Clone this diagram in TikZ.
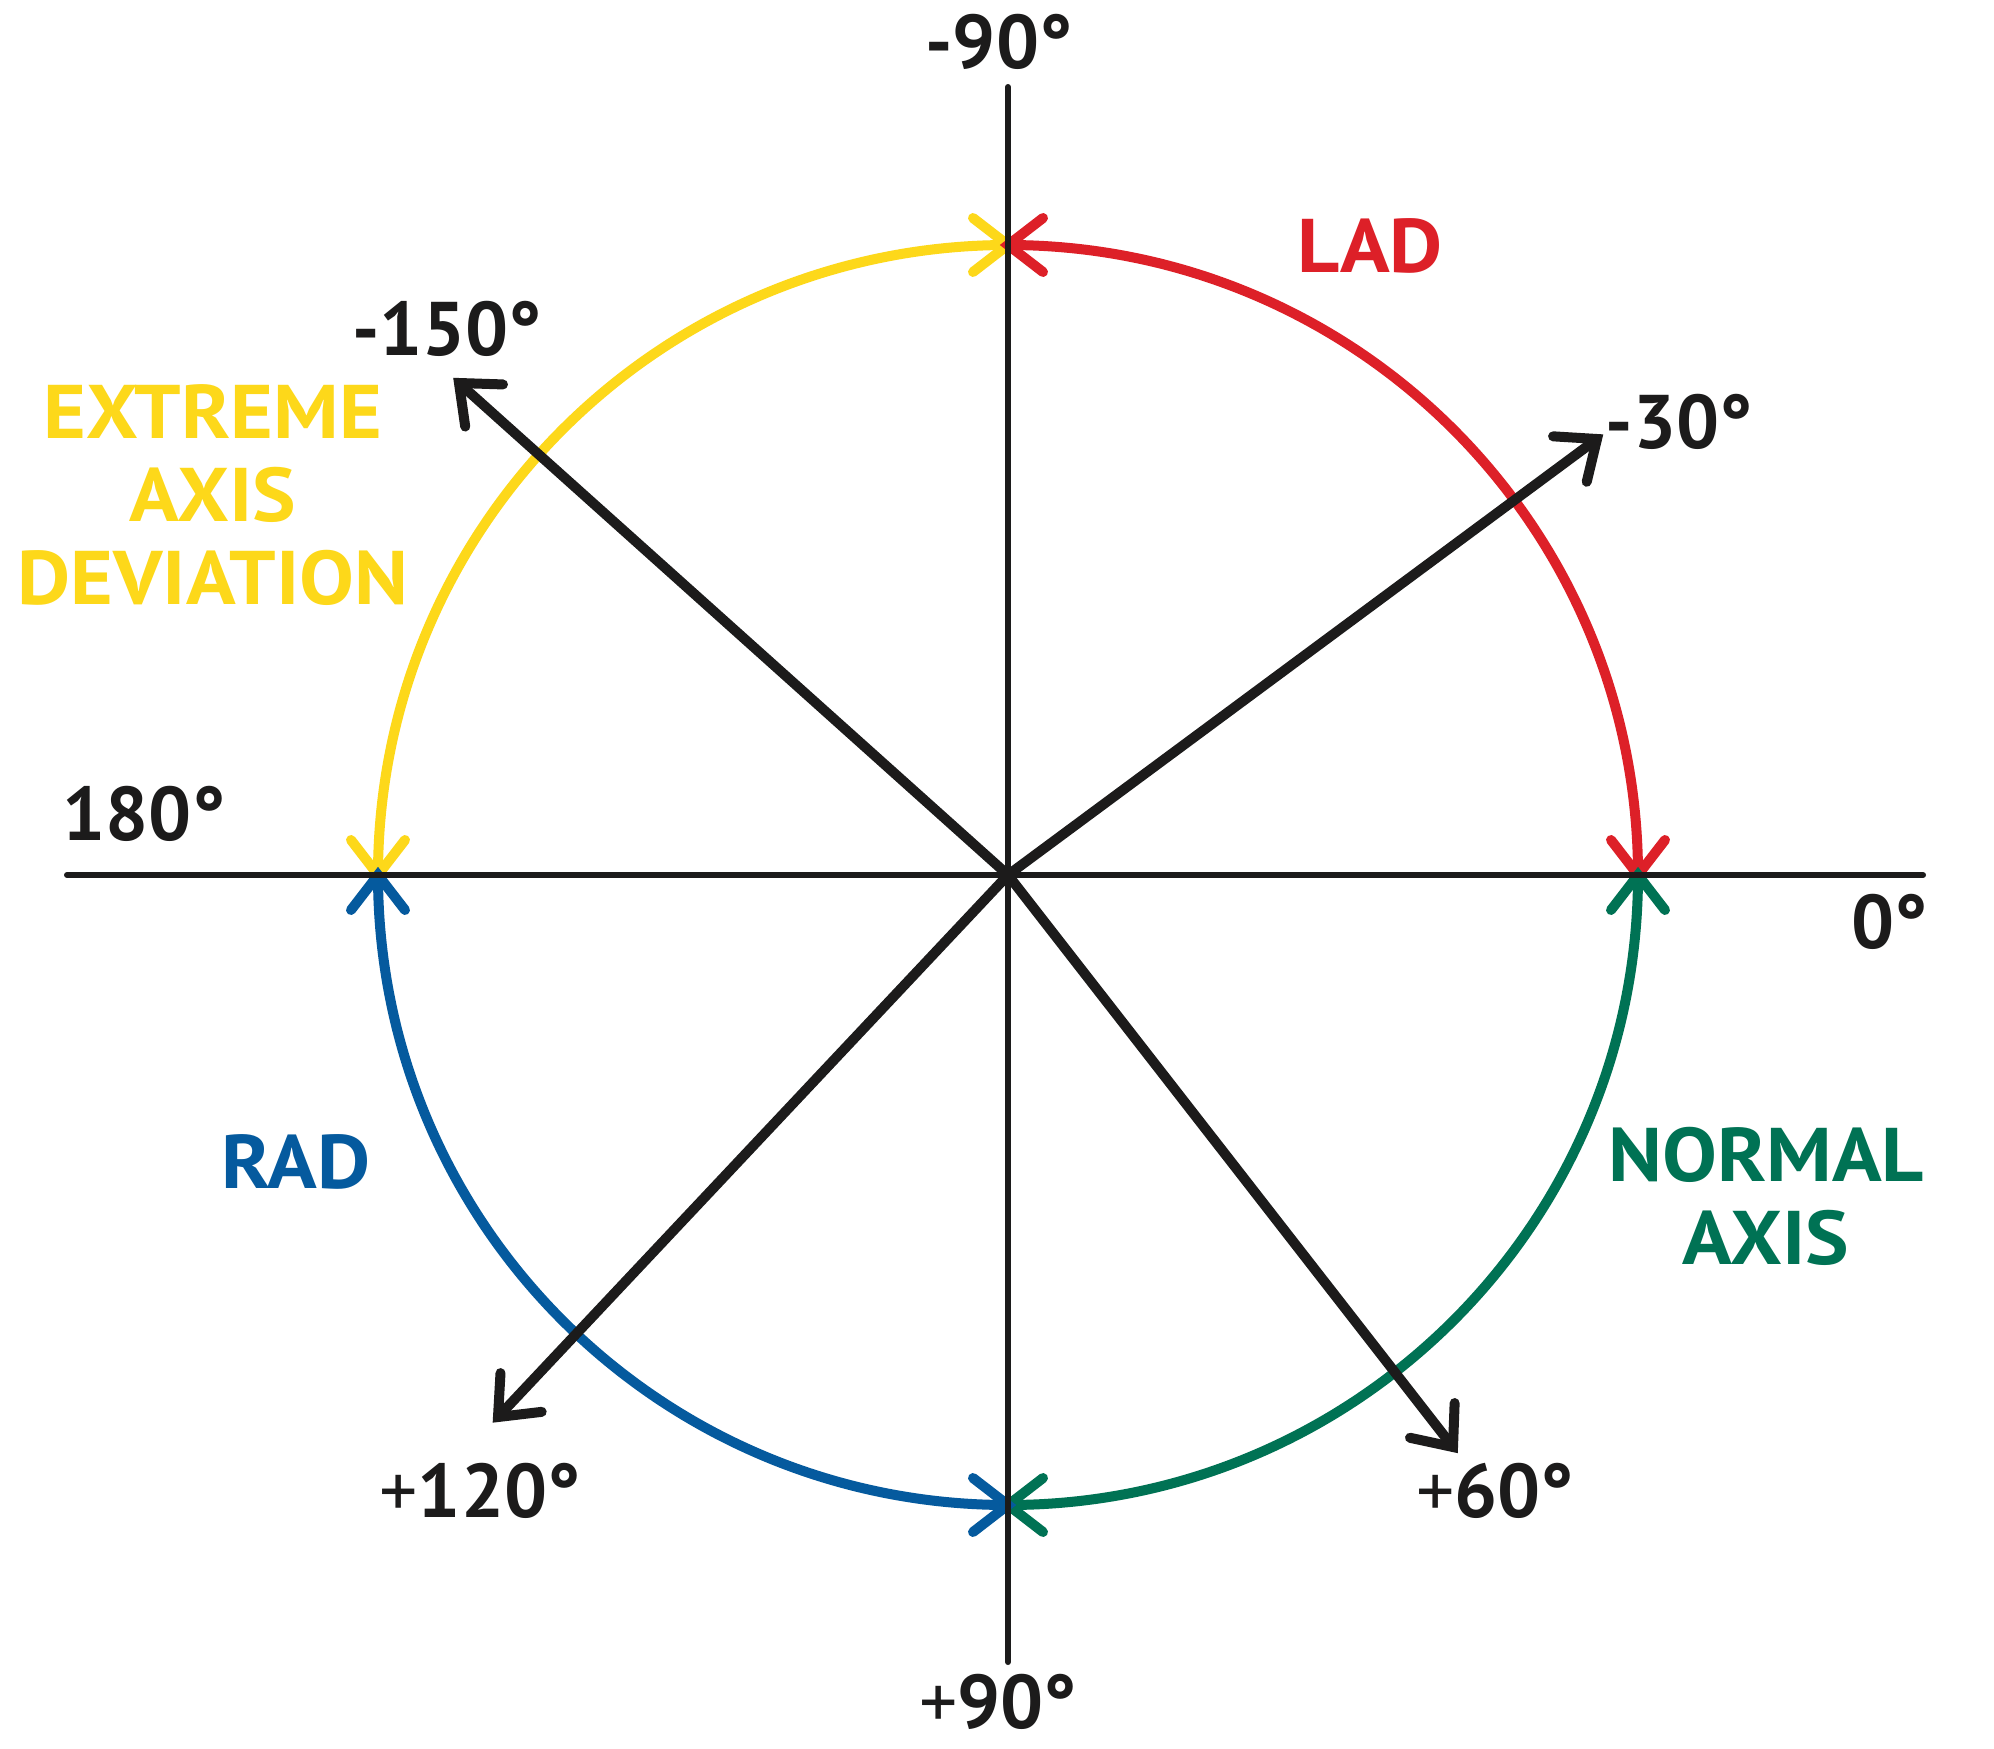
\documentclass[tikz,border=0pt]{standalone}
\usepackage{fontspec}
\setmainfont{PT Sans}
\newfontfamily\wordfont{PT Sans}[FakeStretch=1.08]
\usetikzlibrary{calc}
\definecolor{cyel}{RGB}{253,216,26}
\definecolor{cred}{RGB}{221,32,40}
\definecolor{cblu}{RGB}{5,90,158}
\definecolor{cgrn}{RGB}{0,114,84}
\definecolor{cblk}{RGB}{28,27,27}
\begin{document}
\begin{tikzpicture}[x=1pt,y=-1pt,
  axisline/.style={cblk, line width=6pt, line cap=round},
  vec/.style={cblk, line width=10pt, line cap=round},
  vechead/.style={cblk, line width=10pt, line cap=round, line join=miter},
  arcline/.style={line width=10pt},
  chev/.style={line width=10pt, line cap=round, line join=miter},
  lab/.style={font=\fontsize{76}{83}\selectfont\bfseries, inner sep=0pt, align=center, text=cblk},
  word/.style={lab, font=\wordfont\fontsize{76}{83}\selectfont\bfseries},
]
\useasboundingbox[fill=white] (0,0) rectangle (1994,1748);
% key points
\coordinate (C) at (1008,875);
\coordinate (T) at (1008,245);
\coordinate (B) at (1008,1505);
\coordinate (L) at (378,875);
\coordinate (R) at (1638,875);
\coordinate (AxL) at (67,875);
\coordinate (AxR) at (1923,875);
\coordinate (AxT) at (1008,87);
\coordinate (AxB) at (1008,1662);
\coordinate (Vm30) at (1597,439);
\coordinate (Vm150) at (459,383);
\coordinate (Vp120) at (498,1417);
\coordinate (Vp60) at (1453,1447);
% coloured arcs
\draw[arcline, cyel] (L) arc[start angle=180, end angle=270, radius=630];
\draw[arcline, cred] (T) arc[start angle=270, end angle=360, radius=630];
\draw[arcline, cgrn] (R) arc[start angle=0, end angle=90, radius=630];
\draw[arcline, cblu] (B) arc[start angle=90, end angle=180, radius=630];
% arc heads
\draw[chev, cyel] ($(T)+(-35,-27)$) -- (T) -- ($(T)+(-35,27)$);
\draw[chev, cred] ($(T)+(35,-27)$) -- (T) -- ($(T)+(35,27)$);
\draw[chev, cyel] ($(L)+(-27,-35)$) -- (L) -- ($(L)+(27,-35)$);
\draw[chev, cblu] ($(L)+(-27,35)$) -- (L) -- ($(L)+(27,35)$);
\draw[chev, cred] ($(R)+(-27,-35)$) -- (R) -- ($(R)+(27,-35)$);
\draw[chev, cgrn] ($(R)+(-27,35)$) -- (R) -- ($(R)+(27,35)$);
\draw[chev, cgrn] ($(B)+(35,-27)$) -- (B) -- ($(B)+(35,27)$);
\draw[chev, cblu] ($(B)+(-35,-27)$) -- (B) -- ($(B)+(-35,27)$);
% axes
\draw[axisline] (AxL) -- (AxR);
\draw[axisline] (AxT) -- (AxB);
% vectors
\foreach \v in {Vm30,Vm150,Vp120,Vp60}{
  \draw[vec] (C) -- (\v);
  \draw[vechead] ($(\v)!44pt!40:(C)$) -- (\v) -- ($(\v)!44pt!-40:(C)$);
}
% labels
\node[lab, anchor=base] (lm90) at (999,68) {-90°};
\node[lab, anchor=base] (lp90) at (998,1728) {{\mdseries+}90°};
\node[lab, anchor=base] (l180) at (144,840) {180°};
\node[lab, anchor=base] (l0) at (1890,948) {0°};
\node[lab, anchor=base] (lm150) at (447,355) {-150°};
\node[lab, anchor=base] (lm30) at (1679,448) {-30°};
\node[lab, anchor=base] (lp120) at (480,1517) {{\mdseries+}120°};
\node[lab, anchor=base] (lp60) at (1495,1517) {{\mdseries+}60°};
\node[word, anchor=base, text=cred] (lad) at (1370,272) {LAD};
\node[word, anchor=base, text=cblu] (rad) at (296,1188) {RAD};
\node[word, anchor=center, text=cyel] (ead) at (213,495) {EXTREME\\AXIS\\DEVIATION};
\node[word, anchor=center, text=cgrn] (norm) at (1766,1196) {NORMAL\\AXIS};
\end{tikzpicture}
\end{document}
